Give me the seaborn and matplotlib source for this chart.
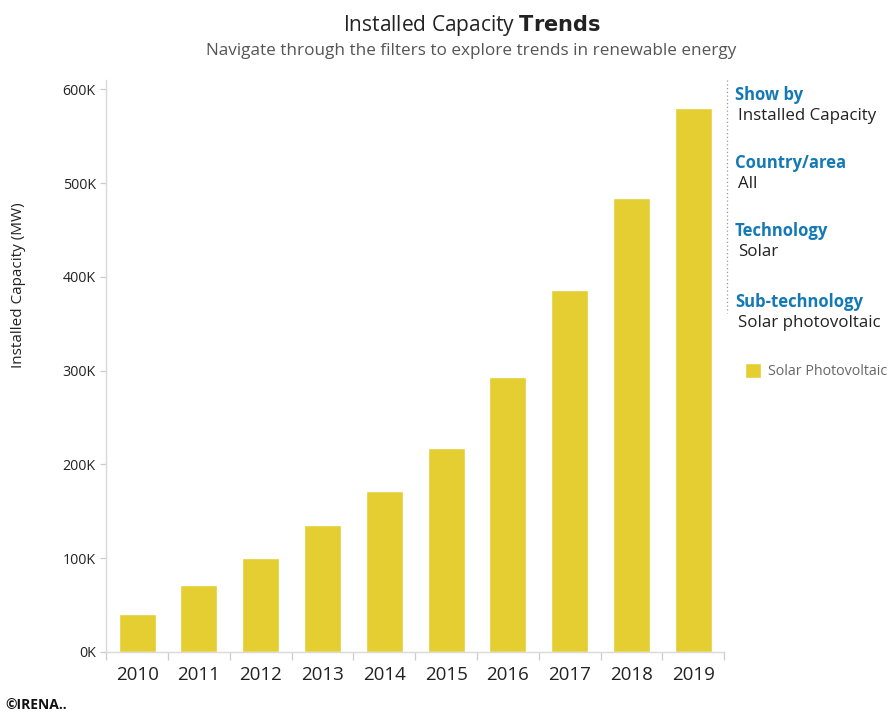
import matplotlib
matplotlib.use("Agg")
import matplotlib.pyplot as plt
import seaborn as sns
import pandas as pd

# datos (MW)
years = ["2010", "2011", "2012", "2013", "2014", "2015", "2016", "2017", "2018", "2019"]
capacity = [40300, 71500, 100000, 135000, 172000, 217000, 293000, 386000, 484000, 580000]
y_ticks = [0, 100000, 200000, 300000, 400000, 500000, 600000]
y_labels = ["0K", "100K", "200K", "300K", "400K", "500K", "600K"]

filters = [("Show by", "Installed Capacity"),
           ("Country/area", "All"),
           ("Technology", "Solar"),
           ("Sub-technology", "Solar photovoltaic")]

bar_color = "#E4CE32"
blue = "#1479B4"

sns.set_theme(style="white")
plt.rcParams["font.family"] = ["Open Sans", "DejaVu Sans"]

df = pd.DataFrame({"year": years, "capacity": capacity})

fig = plt.figure(figsize=(8.93, 7.16), dpi=100)
ax = fig.add_axes([0.119, 0.0894, 0.692, 0.799])

sns.barplot(data=df, x="year", y="capacity", color=bar_color, width=0.6,
            saturation=1, ax=ax, label="Solar Photovoltaic")

ax.set_xlim(-0.5, len(years) - 0.5)
ax.set_ylim(0, 610000)
ax.set_yticks(y_ticks)
ax.set_yticklabels(y_labels, fontsize=10.3, color="#222222")
ax.set_xlabel("")
ax.set_ylabel("Installed Capacity (MW)", fontsize=11, color="#222222")
ax.yaxis.set_label_coords(-0.13, 0.641)

ax.tick_params(axis="x", which="major", length=0, labelsize=13.5, pad=10, labelcolor="#222222")
ax.set_xticks([i - 0.5 for i in range(len(years) + 1)], minor=True)
ax.tick_params(axis="x", which="minor", bottom=True, length=6, color="#cccccc", width=0.9)
ax.tick_params(axis="y", length=4, color="#cccccc", width=0.9, left=True)

for s in ["top", "right"]:
    ax.spines[s].set_visible(False)
for s in ["left", "bottom"]:
    ax.spines[s].set_color("#d9d9d9")
    ax.spines[s].set_linewidth(1)

# títulos
fig.text(0.528, 0.965, "Installed Capacity $\\bf{Trends}$", ha="center", va="center",
         fontsize=15, color="#222222")
fig.text(0.528, 0.929, "Navigate through the filters to explore trends in renewable energy",
         ha="center", va="center", fontsize=12.3, color="#555555")

# panel de filtros
fig.add_artist(plt.Line2D([727 / 893, 727 / 893], [1 - 80 / 716, 1 - 313 / 716],
                          transform=fig.transFigure, color="#999999",
                          linestyle=(0, (1, 2)), linewidth=0.9))
heads_y = [95, 163, 231, 302]
for (head, val), hy in zip(filters, heads_y):
    fig.text(735 / 893, 1 - hy / 716, head, ha="left", va="center", fontsize=12,
             color=blue, fontweight="bold")
    fig.text(738 / 893, 1 - (hy + 21) / 716, val, ha="left", va="center", fontsize=12.2,
             color="#222222")

leg = ax.legend(loc="center left", bbox_to_anchor=(732 / 893, 1 - 371 / 716),
                bbox_transform=fig.transFigure, frameon=False, fontsize=10.3,
                handlelength=1.1, handleheight=1.3, handletextpad=0.5)
for t in leg.get_texts():
    t.set_color("#666666")

fig.text(5 / 893, 1 - 705 / 716, "©IRENA..", ha="left", va="center", fontsize=10,
         fontweight="bold", color="#111111")

fig.savefig("out.png", dpi=100)
